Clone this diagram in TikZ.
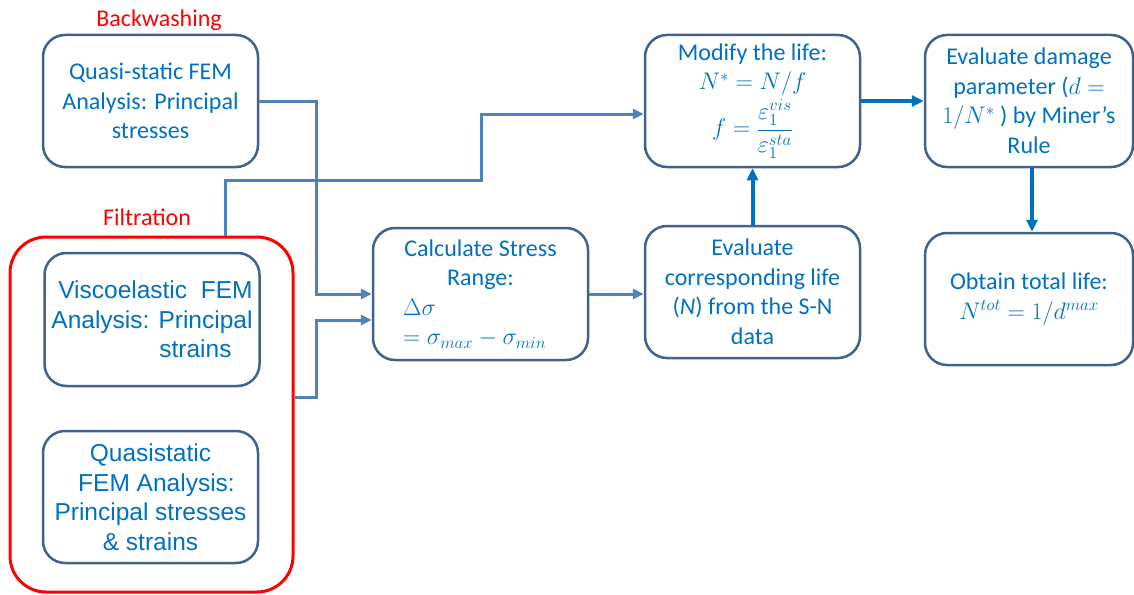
\documentclass[tikz,border=0pt]{standalone}
\usepackage{fix-cm}
\usepackage{fontspec}
\setmainfont{Carlito}
\newfontfamily\arialf{Liberation Sans}
\usetikzlibrary{arrows.meta}
\definecolor{boxc}{RGB}{66,98,140}
\definecolor{txtc}{RGB}{0,112,192}
\definecolor{linec}{RGB}{79,129,189}
\definecolor{thickc}{RGB}{0,112,192}
\definecolor{redc}{RGB}{255,0,0}
\tikzset{
  box/.style={draw=boxc, line width=2.5pt, rounded corners=22pt, text=txtc,
    align=center, inner sep=0pt, font=\fontsize{24}{29.5}\selectfont},
  armbox/.style={box, font=\arialf\fontsize{24.5}{29.5}\selectfont},
  redlabel/.style={text=redc, font=\fontsize{24}{28}\selectfont, inner sep=0pt},
  groupbox/.style={draw=redc, line width=3pt, rounded corners=36pt},
  thinconn/.style={draw=linec, line width=3pt, -{Triangle[length=11pt,width=10pt]}},
  thickconn/.style={draw=thickc, line width=4pt, -{Triangle[length=12pt,width=11pt]}},
}
\begin{document}
\begin{tikzpicture}[x=1pt,y=-1pt]
\useasboundingbox (0,0) rectangle (1134,594);

\node[redlabel] (lbw) at (159,20) {Backwashing};
\node[redlabel] (lft) at (147,217) {Filtration};

\node[groupbox, minimum width=283pt, minimum height=355pt] (filt) at (151.5,414.5) {};

\node[box, minimum width=215pt, minimum height=132pt] (qs) at (150.5,101)
  {Quasi-static FEM\\Analysis: Principal\\stresses};
\node[armbox, minimum width=215pt, minimum height=133pt, align=right] (visc) at (152,319.5)
  {Viscoelastic\ \ FEM\\Analysis: Principal\\strains\hspace*{21pt}};
\node[armbox, minimum width=215pt, minimum height=132pt] (qss) at (150.5,497)
  {Quasistatic\\\hspace*{12pt}FEM Analysis:\\Principal stresses\\\& strains};
\node[box, minimum width=215pt, minimum height=132pt, align=left] (calc) at (480.5,294)
  {\makebox[155pt]{Calculate Stress}\\\makebox[155pt]{Range:}\\$\Delta\sigma$\\$=\sigma_{max}-\sigma_{min}$};
\node[box, minimum width=215pt, minimum height=132pt] (mod) at (752.5,101)
  {Modify the life:\\$N^{*}=N/f$\\[3pt]$f=\displaystyle\frac{\varepsilon_1^{vis}}{\varepsilon_1^{sta}}$};
\node[box, minimum width=208pt, minimum height=132pt] (dmg) at (1029,101)
  {Evaluate damage\\parameter ($d=$\\$1/N^{*}$ ) by Miner’s\\Rule};
\node[box, minimum width=215pt, minimum height=132pt] (evc) at (752.5,292)
  {Evaluate\\corresponding life\\(\textit{N}) from the S-N\\data};
\node[box, minimum width=208pt, minimum height=132pt] (tot) at (1029,299)
  {Obtain total life:\\$N^{tot}=1/d^{max}$};

% connectors
\draw[thinconn] (qs.east) -- ++(57,0) |- (calc.west);
\draw[thinconn] ([yshift=17.5pt]filt.east) -- ++(22,0) |- ([yshift=-26pt]calc.west);
\draw[thinconn] ([xshift=73.5pt]filt.north) |- (481,180) |- ([yshift=-13pt]mod.west);
\draw[thinconn] (calc.east) -- (calc.east -| evc.west);
\draw[thickconn] (evc.north) -- (mod.south);
\draw[thickconn] (mod.east) -- (dmg.west);
\draw[thickconn] ([xshift=3pt]dmg.south) -- ([xshift=3pt]tot.north);
\end{tikzpicture}
\end{document}
